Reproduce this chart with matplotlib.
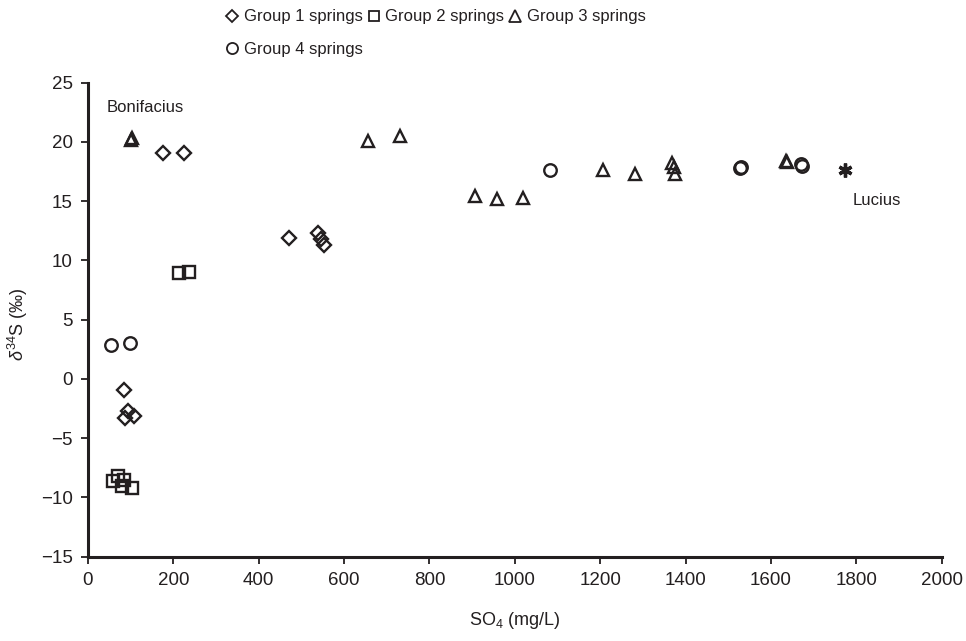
import matplotlib.pyplot as plt
from matplotlib.lines import Line2D

plt.rcParams['font.family'] = ['Liberation Sans', 'DejaVu Sans']
plt.rcParams['mathtext.fontset'] = 'custom'
plt.rcParams['mathtext.rm'] = 'Liberation Sans'
plt.rcParams['mathtext.it'] = 'Liberation Sans:italic'

INK = '#231f20'

# SO4 (mg/L) and delta34S (permil) per group
g1_so4 = [177, 224, 84, 95, 108, 88, 470, 540, 545, 553]
g1_d34s = [19.1, 19.1, -0.9, -2.7, -3.1, -3.3, 11.9, 12.3, 11.8, 11.3]

g2_so4 = [213, 237, 70, 59, 84, 80, 103]
g2_d34s = [8.9, 9.0, -8.2, -8.6, -8.5, -9.0, -9.2]

g3_so4 = [101, 103, 655, 732, 906, 958, 1018, 1206, 1282, 1368, 1372, 1375, 1634, 1637]
g3_d34s = [20.2, 20.3, 20.1, 20.5, 15.4, 15.2, 15.3, 17.6, 17.3, 18.2, 17.9, 17.3, 18.4, 18.3]

g4_so4 = [54, 99, 1082, 1527, 1530, 1670, 1673]
g4_d34s = [2.9, 3.0, 17.6, 17.8, 17.9, 18.1, 18.0]

lucius_so4 = [1773]
lucius_d34s = [17.6]

x_ticks = [0, 200, 400, 600, 800, 1000, 1200, 1400, 1600, 1800, 2000]
y_ticks = [-15, -10, -5, 0, 5, 10, 15, 20, 25]

fig = plt.figure(figsize=(9.66, 6.41), dpi=100)
ax = fig.add_axes([0.091, 0.1315, 0.884, 0.7395])

style = dict(linestyle='none', markerfacecolor='none', markeredgecolor=INK, markeredgewidth=1.7)
ax.plot(g1_so4, g1_d34s, marker='D', markersize=7, **style)
ax.plot(g2_so4, g2_d34s, marker='s', markersize=8, **style)
ax.plot(g3_so4, g3_d34s, marker='^', markersize=9, **style)
ax.plot(g4_so4, g4_d34s, marker='o', markersize=9, **style)
ax.plot(lucius_so4, lucius_d34s, marker=(6, 2, 0), markersize=10, linestyle='none',
        markeredgecolor=INK, markeredgewidth=2.4)

ax.text(43, 22.9, 'Bonifacius', fontsize=12, color=INK, va='center', ha='left')
ax.text(1790, 15.1, 'Lucius', fontsize=12, color=INK, va='center', ha='left')

ax.set_xlim(0, 2000)
ax.set_ylim(-15, 25)
ax.set_xticks(x_ticks)
ax.set_yticks(y_ticks)
ax.tick_params(labelsize=13.5, colors=INK, width=1.3, length=5, direction='out', pad=6)
for side in ['top', 'right']:
    ax.spines[side].set_visible(False)
for side in ['left', 'bottom']:
    ax.spines[side].set_linewidth(2.2)
    ax.spines[side].set_color(INK)

ax.set_xlabel('SO$_4$ (mg/L)', fontsize=13, color=INK)
ax.set_ylabel(r'$\delta^{34}$S (‰)', fontsize=13, color=INK)
ax.xaxis.set_label_coords(0.5, -0.112)
ax.yaxis.set_label_coords(-0.068, 0.49)

# legend: column-major fill so Group 4 ends up alone on the second row
lstyle = dict(linestyle='none', markerfacecolor='none', markeredgecolor=INK, markeredgewidth=1.3)
handles = [
    Line2D([], [], marker='D', markersize=6, label='Group 1 springs', **lstyle),
    Line2D([], [], marker='o', markersize=8, label='Group 4 springs', **lstyle),
    Line2D([], [], marker='s', markersize=7, label='Group 2 springs', **lstyle),
    Line2D([], [], marker='^', markersize=8, label='Group 3 springs', **lstyle),
]
fig.legend(handles=handles, loc='upper left', bbox_to_anchor=(0.232, 0.988), ncol=3,
           frameon=False, fontsize=12, handlelength=0.8, handletextpad=0.3,
           columnspacing=0.25, labelspacing=1.05, borderpad=0.1, borderaxespad=0,
           labelcolor=INK)

fig.savefig('out.png', dpi=100)
